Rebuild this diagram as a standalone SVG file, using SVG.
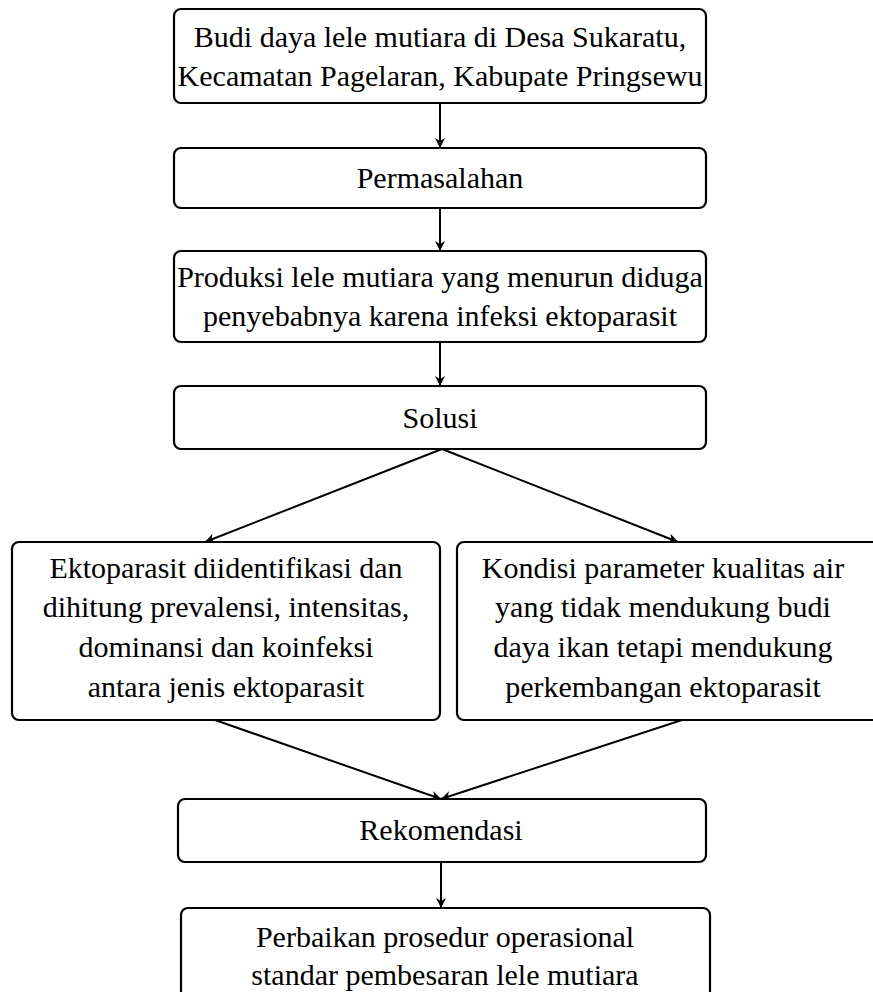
<svg xmlns="http://www.w3.org/2000/svg" width="873" height="992" viewBox="0 0 873 992">
<style>
.box{fill:#ffffff;stroke:#000000;stroke-width:2.2}
.t{font-family:"Liberation Serif","Times New Roman",serif;font-size:30px;fill:#000000;text-anchor:middle}
.c{stroke:#000000;stroke-width:2;fill:none}
</style>
<defs>
<marker id="ah" viewBox="0 0 10 10" refX="10" refY="5" markerWidth="5" markerHeight="5" markerUnits="strokeWidth" orient="auto">
<path d="M0,0 L10,5 L0,10 L3,5 z" fill="#000000"/>
</marker>
</defs>
<rect width="873" height="992" fill="#ffffff"/>
<g id="connectors">
<line class="c" x1="440" y1="103" x2="440" y2="148" marker-end="url(#ah)"/>
<line class="c" x1="440" y1="208" x2="440" y2="251" marker-end="url(#ah)"/>
<line class="c" x1="440" y1="342" x2="440" y2="386" marker-end="url(#ah)"/>
<line class="c" x1="442" y1="449" x2="205" y2="542" marker-end="url(#ah)"/>
<line class="c" x1="442" y1="449" x2="678" y2="542" marker-end="url(#ah)"/>
<line class="c" x1="215" y1="720" x2="441" y2="799" marker-end="url(#ah)"/>
<line class="c" x1="682" y1="720" x2="441" y2="799" marker-end="url(#ah)"/>
<line class="c" x1="441" y1="862" x2="441" y2="908" marker-end="url(#ah)"/>
</g>
<g id="n1">
<rect class="box" x="174" y="9" width="532" height="94" rx="7"/>
<text class="t" x="440" y="47">Budi daya lele mutiara di Desa Sukaratu,</text>
<text class="t" x="440" y="86">Kecamatan Pagelaran, Kabupate Pringsewu</text>
</g>
<g id="n2">
<rect class="box" x="174" y="148" width="532" height="60" rx="7"/>
<text class="t" x="440" y="188">Permasalahan</text>
</g>
<g id="n3">
<rect class="box" x="174" y="251" width="532" height="91" rx="7"/>
<text class="t" x="440" y="287">Produksi lele mutiara yang menurun diduga</text>
<text class="t" x="440" y="326">penyebabnya karena infeksi ektoparasit</text>
</g>
<g id="n4">
<rect class="box" x="174" y="386" width="532" height="63" rx="7"/>
<text class="t" x="440" y="428">Solusi</text>
</g>
<g id="n5">
<rect class="box" x="12" y="542" width="428" height="178" rx="7"/>
<text class="t" x="226" y="578">Ektoparasit diidentifikasi dan</text>
<text class="t" x="226" y="617">dihitung prevalensi, intensitas,</text>
<text class="t" x="226" y="657">dominansi dan koinfeksi</text>
<text class="t" x="226" y="697">antara jenis ektoparasit</text>
</g>
<g id="n6">
<rect class="box" x="457" y="542" width="430" height="178" rx="7"/>
<text class="t" x="663" y="578">Kondisi parameter kualitas air</text>
<text class="t" x="663" y="617">yang tidak mendukung budi</text>
<text class="t" x="663" y="657">daya ikan tetapi mendukung</text>
<text class="t" x="663" y="697">perkembangan ektoparasit</text>
</g>
<g id="n7">
<rect class="box" x="178" y="799" width="528" height="63" rx="7"/>
<text class="t" x="441" y="840">Rekomendasi</text>
</g>
<g id="n8">
<rect class="box" x="181" y="908" width="529" height="100" rx="7"/>
<text class="t" x="445" y="947">Perbaikan prosedur operasional</text>
<text class="t" x="445" y="985">standar pembesaran lele mutiara</text>
</g>
</svg>
